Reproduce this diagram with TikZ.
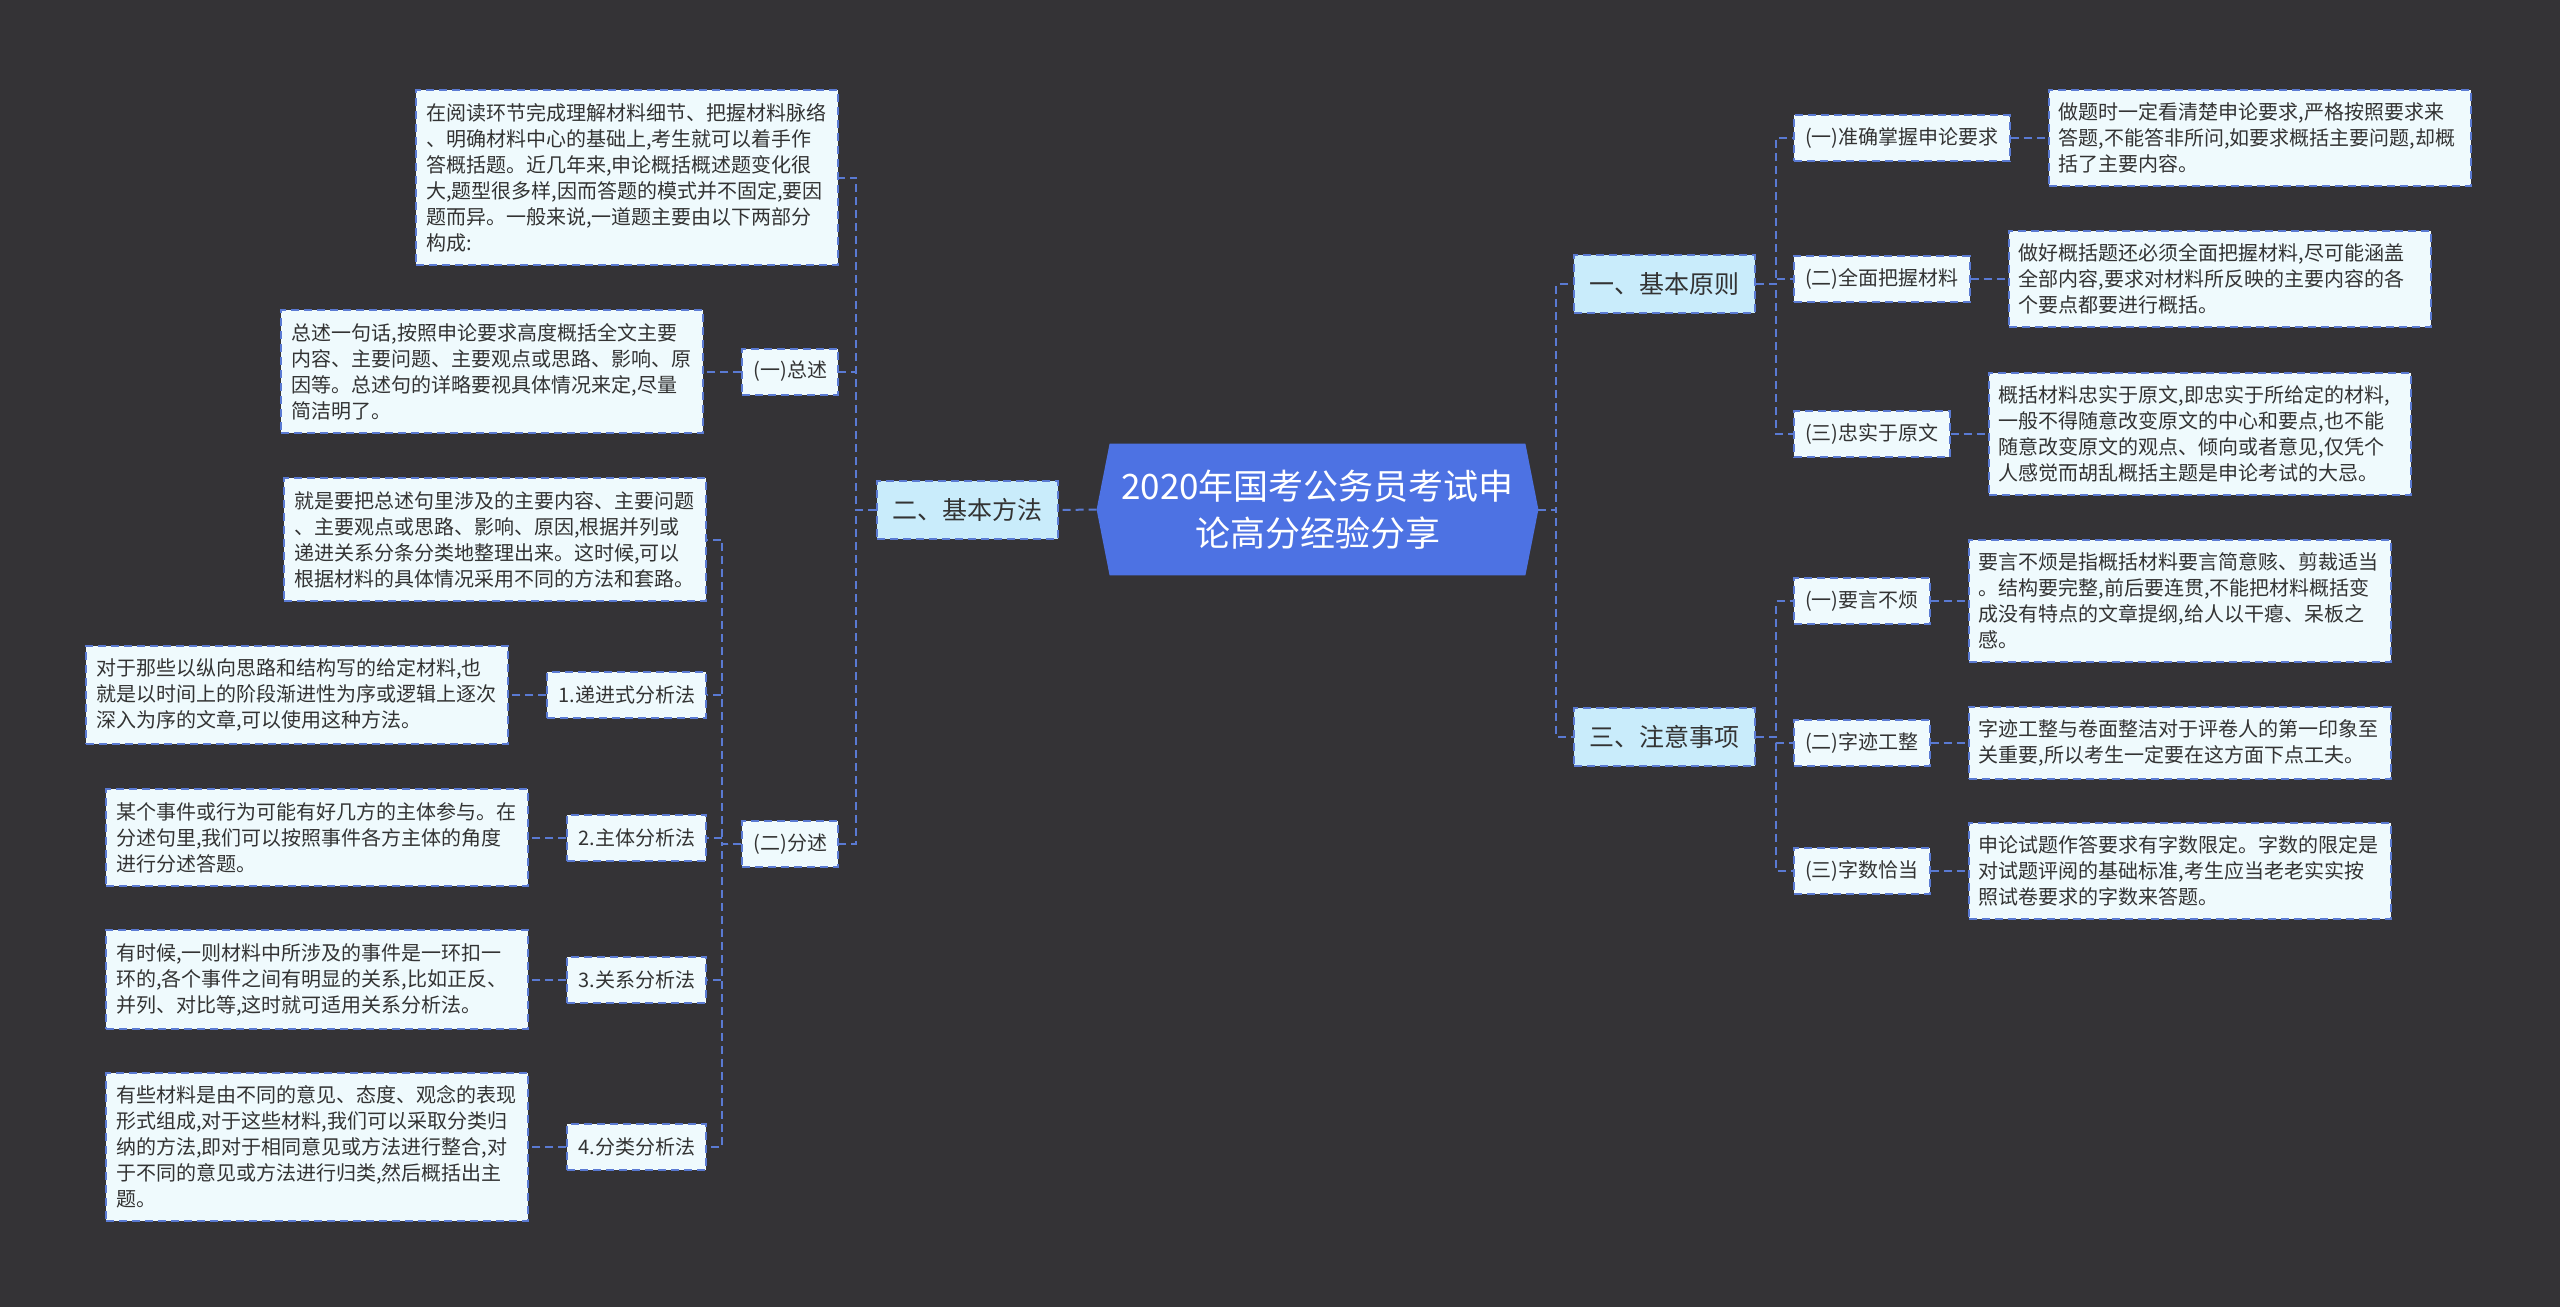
\documentclass[tikz,border=0pt]{standalone}
\usepackage{fontspec}
\setmainfont{Noto Sans CJK SC}
\usetikzlibrary{positioning}
\usetikzlibrary{calc}
\usetikzlibrary{backgrounds}

\definecolor{bgdark}{HTML}{343336}
\definecolor{boxfill}{HTML}{EFFAFD}
\definecolor{mainfill}{HTML}{C9ECFB}
\definecolor{linkblue}{HTML}{5A7AD3}
\definecolor{rootblue}{HTML}{4D72E3}
\definecolor{textdark}{HTML}{333333}

\begin{document}
\begin{tikzpicture}[x=0.5pt, y=-0.5pt,
    conn/.style={draw=linkblue, line width=1pt, dash pattern=on 4pt off 2.5pt},
    textbox/.style={rectangle, draw=linkblue, line width=1pt, dash pattern=on 4pt off 2.5pt,
      fill=boxfill, text=textdark, font=\fontsize{10pt}{13pt}\selectfont,
      text width=201pt, align=left, inner xsep=5pt, inner ysep=6.5pt},
    subbox/.style={rectangle, draw=linkblue, line width=1pt, dash pattern=on 4pt off 2.5pt,
      fill=boxfill, text=textdark, font=\fontsize{10pt}{12pt}\selectfont,
      inner xsep=5.5pt, inner ysep=0pt, minimum height=23pt},
    mainbox/.style={rectangle, draw=linkblue, line width=1pt, dash pattern=on 4pt off 2.5pt,
      fill=mainfill, text=textdark, font=\fontsize{12.5pt}{15pt}\selectfont,
      inner xsep=7.75pt, inner ysep=0pt, minimum height=29pt},
    node distance=18.5pt]

  \useasboundingbox (0,0) rectangle (2560,1307);

  % Root node
  \node[text=white, font=\fontsize{17.5pt}{23.5pt}\selectfont, align=center,
    minimum width=220.5pt, minimum height=65.5pt, inner sep=0pt] (root) at (1317.5,509.5)
    {2020年国考公务员考试申\\论高分经验分享};

  % Main branches
  \node[mainbox] (fangfa) at (967.5,510) {二、基本方法};
  \node[mainbox] (yuanze) at (1664.5,284) {一、基本原则};
  \node[mainbox] (zhuyi) at (1664.5,736.5) {三、注意事项};

  % Left side: 基本方法
  \node[textbox, anchor=east] (intro) at (839,177.5)
    {在阅读环节完成理解材料细节、把握材料脉络\\
     、明确材料中心的基础上,考生就可以着手作\\
     答概括题。近几年来,申论概括概述题变化很\\
     大,题型很多样,因而答题的模式并不固定,要因\\
     题而异。一般来说,一道题主要由以下两部分\\
     构成:};
  \node[subbox, anchor=east] (zongshu) at (839,371.5) {(一)总述};
  \node[textbox, left=of zongshu] (zongshutxt)
    {总述一句话,按照申论要求高度概括全文主要\\
     内容、主要问题、主要观点或思路、影响、原\\
     因等。总述句的详略要视具体情况来定,尽量\\
     简洁明了。};
  \node[subbox, anchor=east] (fenshu) at (839,844) {(二)分述};
  \node[textbox, anchor=east] (fenshutxt) at (707,539.5)
    {就是要把总述句里涉及的主要内容、主要问题\\
     、主要观点或思路、影响、原因,根据并列或\\
     递进关系分条分类地整理出来。这时候,可以\\
     根据材料的具体情况采用不同的方法和套路。};

  % Analysis methods
  \node[subbox, anchor=east] (m1) at (707,695) {1.递进式分析法};
  \node[textbox, left=of m1] (m1txt)
    {对于那些以纵向思路和结构写的给定材料,也\\
     就是以时间上的阶段渐进性为序或逻辑上逐次\\
     深入为序的文章,可以使用这种方法。};
  \node[subbox, anchor=east] (m2) at (707,837.5) {2.主体分析法};
  \node[textbox, left=of m2] (m2txt)
    {某个事件或行为可能有好几方的主体参与。在\\
     分述句里,我们可以按照事件各方主体的角度\\
     进行分述答题。};
  \node[subbox, anchor=east] (m3) at (707,979.5) {3.关系分析法};
  \node[textbox, left=of m3] (m3txt)
    {有时候,一则材料中所涉及的事件是一环扣一\\
     环的,各个事件之间有明显的关系,比如正反、\\
     并列、对比等,这时就可适用关系分析法。};
  \node[subbox, anchor=east] (m4) at (707,1147) {4.分类分析法};
  \node[textbox, left=of m4] (m4txt)
    {有些材料是由不同的意见、态度、观念的表现\\
     形式组成,对于这些材料,我们可以采取分类归\\
     纳的方法,即对于相同意见或方法进行整合,对\\
     于不同的意见或方法进行归类,然后概括出主\\
     题。};

  % Right side: 基本原则
  \node[subbox, anchor=west] (yaoqiu) at (1793,138) {(一)准确掌握申论要求};
  \node[textbox, right=of yaoqiu] (yaoqiutxt)
    {做题时一定看清楚申论要求,严格按照要求来\\
     答题,不能答非所问,如要求概括主要问题,却概\\
     括了主要内容。};
  \node[subbox, anchor=west] (quanmian) at (1793,279) {(二)全面把握材料};
  \node[textbox, right=of quanmian] (quanmiantxt)
    {做好概括题还必须全面把握材料,尽可能涵盖\\
     全部内容,要求对材料所反映的主要内容的各\\
     个要点都要进行概括。};
  \node[subbox, anchor=west] (zhongshi) at (1793,434) {(三)忠实于原文};
  \node[textbox, right=of zhongshi] (zhongshitxt)
    {概括材料忠实于原文,即忠实于所给定的材料,\\
     一般不得随意改变原文的中心和要点,也不能\\
     随意改变原文的观点、倾向或者意见,仅凭个\\
     人感觉而胡乱概括主题是申论考试的大忌。};

  % Right side: 注意事项
  \node[subbox, anchor=west] (yaoyan) at (1793,601) {(一)要言不烦};
  \node[textbox, right=of yaoyan] (yaoyantxt)
    {要言不烦是指概括材料要言简意赅、剪裁适当\\
     。结构要完整,前后要连贯,不能把材料概括变\\
     成没有特点的文章提纲,给人以干瘪、呆板之\\
     感。};
  \node[subbox, anchor=west] (ziji) at (1793,743) {(二)字迹工整};
  \node[textbox, right=of ziji] (zijitxt)
    {字迹工整与卷面整洁对于评卷人的第一印象至\\
     关重要,所以考生一定要在这方面下点工夫。};
  \node[subbox, anchor=west] (zishu) at (1793,871) {(三)字数恰当};
  \node[textbox, right=of zishu] (zishutxt)
    {申论试题作答要求有字数限定。字数的限定是\\
     对试题评阅的基础标准,考生应当老老实实按\\
     照试卷要求的字数来答题。};

  % Connectors from the root
  \draw[conn] (root.west) -- (fangfa.east);
  \foreach \c in {yuanze,zhuyi}
    \draw[conn] (root.east) -- ++(18,0) |- (\c.west);

  % Connectors on the left
  \foreach \c in {intro,zongshu,fenshu}
    \draw[conn] (fangfa.west) -- ++(-20,0) |- (\c.east);
  \draw[conn] (zongshu.west) -- (zongshutxt.east);
  \foreach \c in {fenshutxt,m1,m2,m3,m4}
    \draw[conn] (fenshu.west) -- ++(-19,0) |- (\c.east);
  \foreach \i in {1,...,4}
    \draw[conn] (m\i.west) -- (m\i txt.east);

  % Connectors on the right
  \foreach \c in {yaoqiu,quanmian,zhongshi}
    \draw[conn] (yuanze.east) -- ++(20,0) |- (\c.west);
  \foreach \c in {yaoyan,ziji,zishu}
    \draw[conn] (zhuyi.east) -- ++(20,0) |- (\c.west);
  \foreach \c in {yaoqiu,quanmian,zhongshi,yaoyan,ziji,zishu}
    \draw[conn] (\c.east) -- (\c txt.west);

  % Background and root shape
  \begin{scope}[on background layer]
    \fill[bgdark] (0,0) rectangle (2560,1307);
    \fill[rootblue] ([xshift=6.5pt]root.north west) -- ([xshift=-6.5pt]root.north east)
      -- (root.east) -- ([xshift=-6.5pt]root.south east)
      -- ([xshift=6.5pt]root.south west) -- (root.west) -- cycle;
  \end{scope}

\end{tikzpicture}
\end{document}
